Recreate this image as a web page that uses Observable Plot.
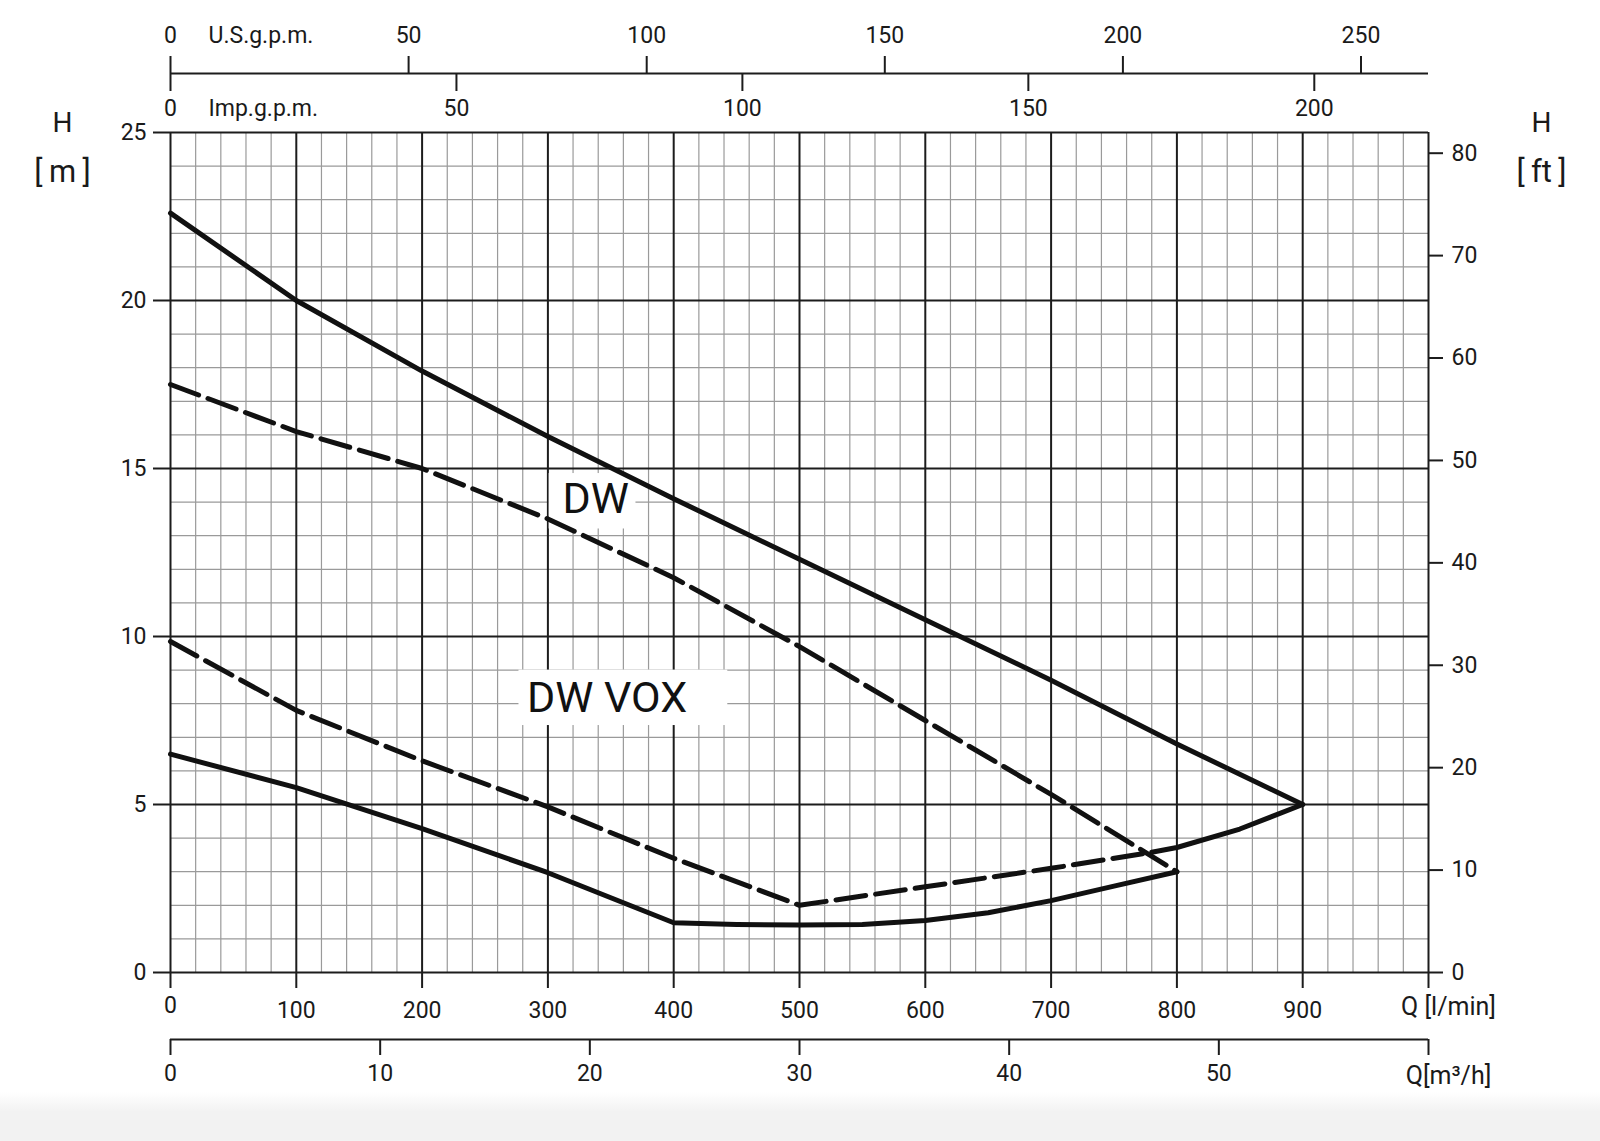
<!DOCTYPE html>
<html><head><meta charset="utf-8">
<script src="https://cdn.jsdelivr.net/npm/d3@7"></script>
<script src="https://cdn.jsdelivr.net/npm/@observablehq/plot@0.6"></script>
<style>
html,body{margin:0;padding:0;overflow:hidden;width:1600px;height:1141px;}
body{background:linear-gradient(to bottom,#fff 0,#fff 1092px,#f2f2f2 1112px,#f2f2f2 1141px);}
#chart svg{display:block;}
</style></head><body><div id="chart"></div>
<script>
// ---- data (Q in l/min, H in m) ----
const dwMaxQ = [0,100,200,300,400,500,600,700,800,900];
const dwMaxH = [22.6,20.0,17.9,15.95,14.1,12.3,10.5,8.7,6.8,5.0];
const dwMinQ = [0,100,200,300,400,500,600,700,800];
const dwMinH = [17.5,16.1,15.0,13.5,11.75,9.7,7.5,5.3,3.0];
const voxMaxQ = [0,100,200,300,400,500,600,700,780];
const voxMaxH = [9.85,7.8,6.3,4.93,3.4,2.0,2.55,3.1,3.58];
const joinQ = [780,800,850,900];
const joinH = [3.58,3.72,4.27,5.0];
const voxMinQ = [0,100,200,300,400,450,500,550,600,650,700,750,800];
const voxMinH = [6.5,5.5,4.28,2.97,1.48,1.43,1.41,1.43,1.55,1.78,2.14,2.57,3.0];

// ---- tick labels ----
const lpmTicks = [0,100,200,300,400,500,600,700,800,900];
const m3hTicks = [0,10,20,30,40,50];
const usTicks = [0,50,100,150,200,250];
const impTicks = [0,50,100,150,200];
const mTicks = [0,5,10,15,20,25];
const ftTicks = [0,10,20,30,40,50,60,70,80];

// ---- annotations ----
const labelText = ["DW","DW VOX"];
const labelQ = [338, 347];
const labelH = [14.08, 8.17];
const boxQ1 = [301, 277], boxQ2 = [370, 443], boxH1 = [13.2, 7.35], boxH2 = [14.85, 9.0];

// ---- conversions ----
const US_GAL = 3.78541, IMP_GAL = 4.54609, FT = 3.28084, M3H = 1000/60;

// ---- layout ----
const W = 1600, H = 1141, X0 = 170, X1 = 1428, Y0 = 972, Y1 = 132;
const xAt = px => 1000*(px - X0)/(X1 - X0);
const yAt = py => 25*(Y0 - py)/(Y0 - Y1);

const pts = (q,h) => q.map((x,i)=>({q:x,h:h[i]}));
const dark = "#1c1c1c";
const txt = "#1a1a1a";
const thin = "\u2009";

const minorX = d3.range(0, 1001, 20).filter(v => v % 100 !== 0);
const minorY = d3.range(0, 26, 1).filter(v => v % 5 !== 0);
const majorX = d3.range(100, 1000, 100);
const majorY = [5,10,15,20];

const lineStyle = {x:"q", y:"h", stroke:"#111", strokeWidth:5, strokeLinejoin:"round"};
const dash = {strokeDasharray:"30,10"};

const chart = Plot.plot({
  width: W, height: H,
  marginTop: Y1, marginBottom: H - Y0, marginLeft: X0, marginRight: W - X1,
  x: {domain:[0,1000], axis:null},
  y: {domain:[0,25], axis:null},
  style: {fontFamily:"Roboto, 'Liberation Sans', sans-serif", fontSize:"22px", background:"transparent", color:txt},
  marks: [
    // grid
    Plot.ruleX(minorX, {y1:0, y2:25, stroke:"#9a9a9a", strokeWidth:1.2}),
    Plot.ruleY(minorY, {x1:0, x2:1000, stroke:"#9a9a9a", strokeWidth:1.2}),
    Plot.ruleX(majorX, {y1:yAt(988), y2:25, stroke:dark, strokeWidth:2}),
    Plot.ruleY(majorY, {x1:xAt(153), x2:1000, stroke:dark, strokeWidth:2}),
    // frame edges with ticks
    Plot.ruleX([0,1000], {y1:yAt(988), y2:25, stroke:dark, strokeWidth:2}),
    Plot.ruleY([0,25], {x1:xAt(153), x2:1000, stroke:dark, strokeWidth:2}),
    // label backgrounds
    Plot.rect(labelText, {x1:(d,i)=>boxQ1[i], x2:(d,i)=>boxQ2[i], y1:(d,i)=>boxH1[i], y2:(d,i)=>boxH2[i], fill:"white"}),
    // curves
    Plot.line(pts(dwMaxQ, dwMaxH), lineStyle),
    Plot.line(pts(dwMinQ, dwMinH), {...lineStyle, ...dash}),
    Plot.line(pts(voxMaxQ, voxMaxH), {...lineStyle, ...dash}),
    Plot.line(pts(joinQ, joinH), lineStyle),
    Plot.line(pts(voxMinQ, voxMinH), lineStyle),
    // curve labels
    Plot.text(labelText, {x:(d,i)=>labelQ[i], y:(d,i)=>labelH[i], text:d=>d, fontSize:43, fill:"#111"}),
    // left axis labels (m)
    Plot.text(mTicks, {x:xAt(146), y:d=>d, text:d=>String(d), textAnchor:"end", fontSize:23, fill:txt}),
    Plot.text(["H"], {x:xAt(62), y:yAt(123), text:d=>d, fontSize:28, fill:txt}),
    Plot.text(["[" + thin + "m" + thin + "]"], {x:xAt(62), y:yAt(172), text:d=>d, fontSize:31, fill:txt}),
    // right axis (ft)
    Plot.ruleY(ftTicks, {y:d=>d/FT, x1:1000, x2:xAt(1443), stroke:dark, strokeWidth:2}),
    Plot.text(ftTicks, {x:xAt(1451), y:d=>d/FT, text:d=>String(d), textAnchor:"start", fontSize:23, fill:txt}),
    Plot.text(["H"], {x:xAt(1541), y:yAt(123), text:d=>d, fontSize:28, fill:txt}),
    Plot.text(["[" + thin + "ft" + thin + "]"], {x:xAt(1541), y:yAt(172), text:d=>d, fontSize:31, fill:txt}),
    // bottom l/min labels
    Plot.text(lpmTicks, {x:d=>d, y:d=>d===0 ? yAt(1005) : yAt(1010), text:d=>String(d), fontSize:23, fill:txt}),
    Plot.text(["Q [l/min]"], {x:xAt(1448), y:yAt(1006), text:d=>d, fontSize:25, fill:txt}),
    // bottom m3/h axis
    Plot.ruleY([yAt(1039)], {x1:0, x2:1000, stroke:dark, strokeWidth:2}),
    Plot.ruleX([...m3hTicks, 60], {x:d=>d*M3H, y1:yAt(1039), y2:yAt(1055), stroke:dark, strokeWidth:2}),
    Plot.text(m3hTicks, {x:d=>d*M3H, y:yAt(1073), text:d=>String(d), fontSize:23, fill:txt}),
    Plot.text(["Q[m³/h]"], {x:xAt(1448), y:yAt(1075), text:d=>d, fontSize:25, fill:txt}),
    // top gpm axes
    Plot.ruleY([yAt(73)], {x1:0, x2:1000, stroke:dark, strokeWidth:2}),
    Plot.ruleX([0], {y1:yAt(56), y2:yAt(91), stroke:dark, strokeWidth:2}),
    Plot.ruleX(usTicks.filter(d=>d>0), {x:d=>d*US_GAL, y1:yAt(73), y2:yAt(56), stroke:dark, strokeWidth:2}),
    Plot.ruleX(impTicks.filter(d=>d>0), {x:d=>d*IMP_GAL, y1:yAt(73), y2:yAt(91), stroke:dark, strokeWidth:2}),
    Plot.text(usTicks, {x:d=>d*US_GAL, y:yAt(35), text:d=>String(d), fontSize:23, fill:txt}),
    Plot.text(impTicks, {x:d=>d*IMP_GAL, y:yAt(108), text:d=>String(d), fontSize:23, fill:txt}),
    Plot.text(["U.S.g.p.m."], {x:xAt(208), y:yAt(35), text:d=>d, textAnchor:"start", fontSize:23, fill:txt}),
    Plot.text(["Imp.g.p.m."], {x:xAt(208), y:yAt(108), text:d=>d, textAnchor:"start", fontSize:23, fill:txt})
  ]
});
document.getElementById("chart").appendChild(chart);
</script></body></html>
